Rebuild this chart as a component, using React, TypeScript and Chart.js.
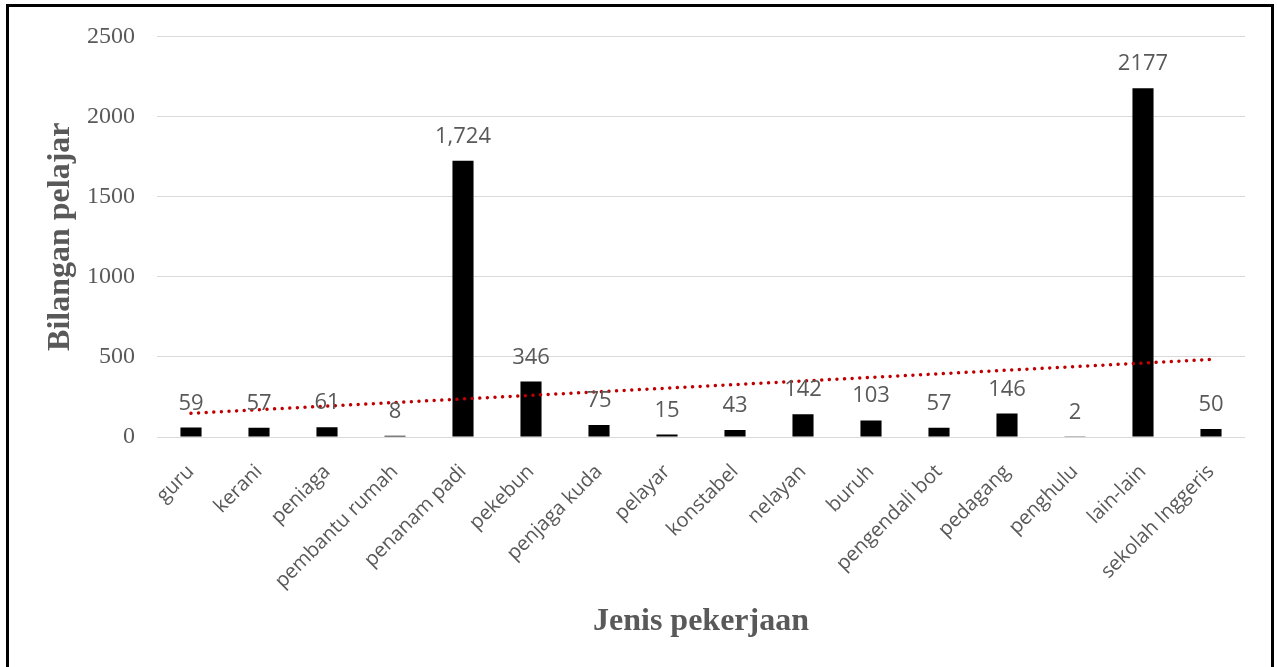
import React, { useEffect, useRef } from "react";
import { Chart, registerables } from "chart.js";

Chart.register(...registerables);

const categories = [
  "guru", "kerani", "peniaga", "pembantu rumah", "penanam padi", "pekebun",
  "penjaga kuda", "pelayar", "konstabel", "nelayan", "buruh", "pengendali bot",
  "pedagang", "penghulu", "lain-lain", "sekolah Inggeris",
];
const studentCounts = [59, 57, 61, 8, 1724, 346, 75, 15, 43, 142, 103, 57, 146, 2, 2177, 50];
const valueLabels = ["59", "57", "61", "8", "1,724", "346", "75", "15", "43", "142", "103", "57", "146", "2", "2177", "50"];
// linear trendline end values (first and last category)
const trendStart = 148;
const trendEnd = 484;
const yTicks = [0, 500, 1000, 1500, 2000, 2500];

const GREY = "#595959";

const valueLabelPlugin = {
  id: "valueLabels",
  afterDatasetsDraw(chart: any) {
    const meta = chart.getDatasetMeta(0);
    const ctx = chart.ctx;
    ctx.save();
    ctx.font = "22px 'Open Sans'";
    ctx.fillStyle = GREY;
    ctx.textAlign = "center";
    ctx.textBaseline = "alphabetic";
    meta.data.forEach((bar: any, i: number) => {
      ctx.fillText(valueLabels[i], bar.x, bar.y - 18);
    });
    ctx.restore();
  },
};

export default function App() {
  const ref = useRef<HTMLCanvasElement>(null);
  useEffect(() => {
    if (!ref.current) return;
    const trendData = categories.map((_, i) =>
      i === 0 ? trendStart : i === categories.length - 1 ? trendEnd : null
    );
    const chart = new Chart(ref.current, {
      type: "bar",
      data: {
        labels: categories,
        datasets: [
          {
            type: "bar",
            data: studentCounts,
            backgroundColor: "#000000",
            barPercentage: 0.31,
            categoryPercentage: 1,
            order: 1,
          },
          {
            type: "line",
            data: trendData as any,
            spanGaps: true,
            borderColor: "#c00000",
            borderWidth: 3.5,
            borderDash: [0.01, 7.6],
            borderCapStyle: "round",
            pointRadius: 0,
            fill: false,
            order: 0,
          } as any,
        ],
      },
      options: {
        responsive: false,
        animation: false,
        devicePixelRatio: 1,
        layout: { padding: { left: 38, top: 33, right: 32, bottom: 22 } },
        plugins: { legend: { display: false }, tooltip: { enabled: false } },
        scales: {
          x: {
            grid: { display: false },
            border: { display: false },
            afterFit(scale: any) {
              scale.height = 208;
            },
            ticks: {
              color: GREY,
              font: { family: "'Open Sans'", size: 20 },
              minRotation: 45,
              maxRotation: 45,
              autoSkip: false,
              padding: 15,
            },
            title: {
              display: true,
              text: "Jenis pekerjaan",
              color: GREY,
              font: { family: "'Liberation Serif'", size: 32, weight: "bold" },
            },
          },
          y: {
            min: 0,
            max: 2500,
            afterFit(scale: any) {
              scale.width = 119;
            },
            afterBuildTicks(scale: any) {
              scale.ticks = yTicks.map((v) => ({ value: v }));
            },
            grid: { color: "#d9d9d9", lineWidth: 1, drawTicks: false },
            border: { display: false },
            ticks: {
              color: GREY,
              font: { family: "'Liberation Serif'", size: 24 },
              padding: 22,
              callback: (v: any) => String(v),
            },
            title: {
              display: true,
              text: "Bilangan pelajar",
              color: GREY,
              font: { family: "'Liberation Serif'", size: 32, weight: "bold" },
            },
          },
        },
      },
      plugins: [valueLabelPlugin],
    });
    return () => chart.destroy();
  }, []);

  return (
    <div
      style={{
        position: "fixed",
        left: 0,
        top: 0,
        width: 1277,
        height: 667,
        overflow: "hidden",
        background: "#ffffff",
      }}
    >
      <canvas ref={ref} width={1277} height={667} style={{ position: "absolute", left: 0, top: 0 }} />
      <div
        style={{
          position: "absolute",
          left: 6,
          top: 4,
          width: 1268,
          height: 720,
          border: "3px solid #000",
          boxSizing: "border-box",
          pointerEvents: "none",
        }}
      />
    </div>
  );
}
